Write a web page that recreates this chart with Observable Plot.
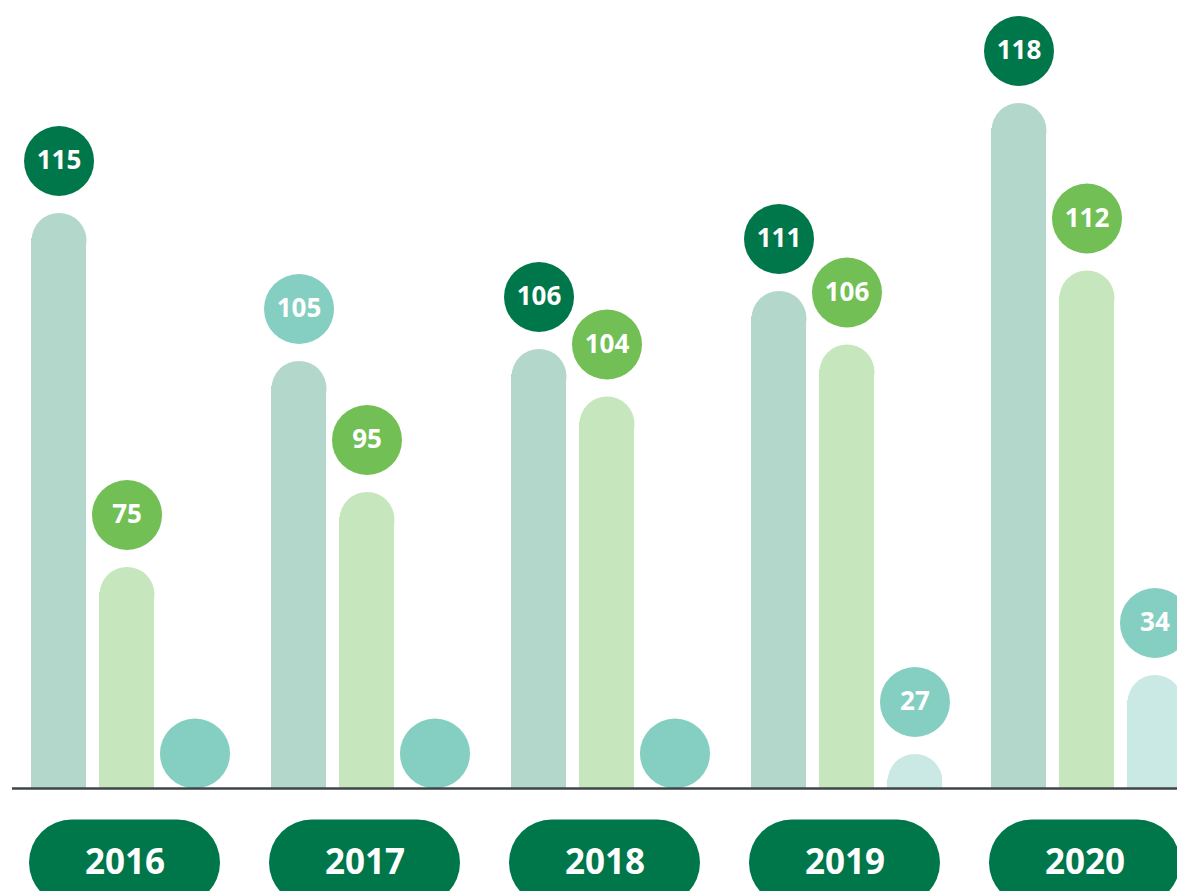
<!DOCTYPE html>
<html>
<head>
<meta charset="utf-8">
<script src="https://cdn.jsdelivr.net/npm/d3@7"></script>
<script src="https://cdn.jsdelivr.net/npm/@observablehq/plot@0.6"></script>
<style>
  html, body { margin: 0; padding: 0; background: #ffffff; overflow: hidden; }
  #chart svg { display: block; }
</style>
</head>
<body>
<div id="chart"></div>
<script>
// ---- data ----
const years = ["2016", "2017", "2018", "2019", "2020"];
const series = ["A", "B", "C"];
// numbers shown in the circles
const labelsA = [115, 105, 106, 111, 118];
const labelsB = [75, 95, 104, 106, 112];
const labelsC = [null, null, null, 27, 34];
// drawn bar lengths (the bars are not drawn to the labels' scale)
const barA = [115.1, 85.5, 87.9, 99.5, 137.1];
const barB = [44.3, 59.3, 78.4, 88.8, 103.6];
const barC = [0, 0, 0, 6.9, 22.7];

// ---- styles ----
const barColor = {A: "#b3d8cb", B: "#c6e7bd", C: "#cbe9e4"};
const dotColor = {A: "#00774a", B: "#72bf55", C: "#84cfc1"};
const declineColor = "#84cfc1";
const darkGreen = "#00774a";

const labels = {A: labelsA, B: labelsB, C: labelsC};
const bars = {A: barA, B: barB, C: barC};

const rows = [];
years.forEach((year, i) => {
  series.forEach(s => {
    const label = labels[s][i];
    const prev = i > 0 ? labels[s][i - 1] : null;
    const declined = label != null && prev != null && label < prev;
    rows.push({
      year, series: s, label, h: bars[s][i],
      bar: barColor[s],
      dot: declined ? declineColor : dotColor[s]
    });
  });
});
const withBar = rows.filter(d => d.h > 0);
const labelled = rows.filter(d => d.label != null);
const empty = rows.filter(d => d.label == null);
const pills = years.map(year => ({year, base: 0}));

const CAP = 27.5;      // half bar width
const LABEL_R = 35;    // label circle radius
const LABEL_DY = -52;  // label circle above bar top

const chart = Plot.plot({
  width: 1200,
  height: 891,
  marginTop: 0,
  marginBottom: 103,
  marginLeft: 31,
  marginRight: 18,
  fx: {domain: years, paddingInner: 0.204, paddingOuter: 0, round: false, axis: null},
  x: {domain: series, paddingInner: 0.19, paddingOuter: 0, round: false, axis: null},
  y: {domain: [0, 157.6], axis: null},
  color: {type: "identity"},
  style: {fontFamily: "'Open Sans', sans-serif", background: "#ffffff", overflow: "visible", maxWidth: "none"},
  marks: [
    // bar bodies
    Plot.barY(withBar, {fx: "year", x: "series", y: "h", fill: "bar", insetTop: CAP - 2}),
    // rounded bar tops (clipped at the baseline)
    Plot.dot(withBar, {fx: "year", x: "series", y: "h", r: CAP, dy: CAP, fill: "bar", clip: true}),
    // empty circles resting on the baseline
    Plot.dot(empty, {fx: "year", x: "series", y: "h", r: LABEL_R, dy: -LABEL_R, fill: "dot"}),
    // value circles
    Plot.dot(labelled, {fx: "year", x: "series", y: "h", r: LABEL_R, dy: LABEL_DY, fill: "dot"}),
    Plot.text(labelled, {fx: "year", x: "series", y: "h", dy: LABEL_DY, text: d => String(d.label),
      fill: "#ffffff", fontSize: 26, fontWeight: 700}),
    // baseline
    Plot.ruleY([0], {stroke: "#3f4449", strokeWidth: 2.5, insetLeft: -19, insetRight: -30}),
    // year pills
    Plot.ruleY(pills, {fx: "year", y: "base", dy: 74, stroke: darkGreen, strokeWidth: 86,
      strokeLinecap: "round", insetLeft: 41, insetRight: 45}),
    Plot.text(pills, {fx: "year", y: "base", dy: 74, dx: -2, text: "year",
      fill: "#ffffff", fontSize: 35, fontWeight: 700})
  ]
});
document.getElementById("chart").appendChild(chart);
</script>
</body>
</html>
